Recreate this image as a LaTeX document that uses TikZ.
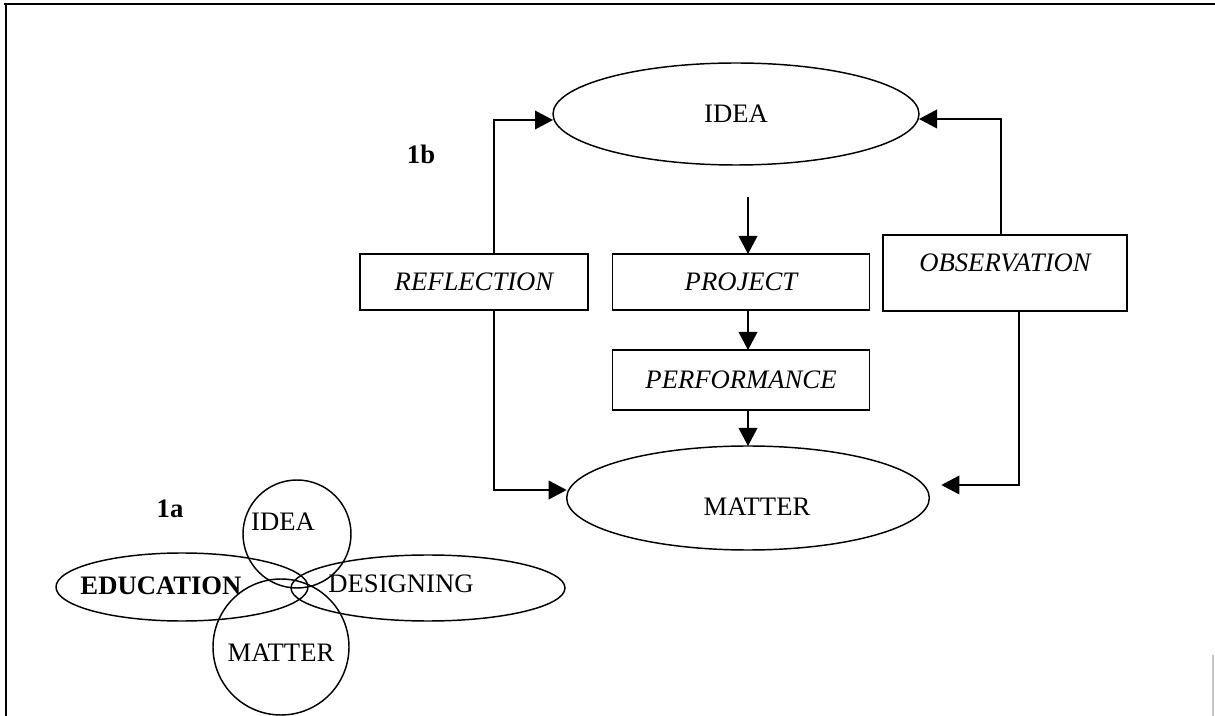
\documentclass[tikz,border=0pt]{standalone}
\usepackage{fontspec}
\setmainfont{Liberation Serif}
\usetikzlibrary{shapes.geometric,arrows.meta}

\tikzset{every picture/.style={line width=1.1pt}}
\tikzset{
  lbl/.style={inner sep=0.75pt, font=\fontsize{20}{24}\selectfont},
  bigell/.style={draw, ellipse, inner sep=0pt, outer sep=0pt, lbl},
  stagebox/.style={draw, rectangle, inner sep=0pt, outer sep=0pt, lbl, font=\fontsize{20}{24}\selectfont\itshape},
  arr/.style={-{Triangle[length=13.5pt,width=14pt]}},
}

\begin{document}
\begin{tikzpicture}[x=0.75pt,y=0.75pt,yscale=-1,xscale=1]
\useasboundingbox (0,0) rectangle (1215,716);

%Frame
\draw [line width=1.5pt] (4,4) -- (1215,4) ;
\draw [line width=1.5pt] (6,4) -- (6,716) ;
\draw [color=gray!45] (1213,655) -- (1213,716) ;

%Shape: Ellipse (1b)
\node [bigell, minimum width=274.5pt, minimum height=76.5pt] (idea) at (736,114) {IDEA};
\node [bigell, minimum width=272pt, minimum height=78pt, text height=26.7pt] (matter) at (748,498) {\hspace*{13.5pt}MATTER};

%Shape: Rectangle (1b)
\node [stagebox, minimum width=171pt, minimum height=42pt] (reflection) at (474,282) {REFLECTION};
\node [stagebox, minimum width=192.75pt, minimum height=42pt] (project) at (741,282) {PROJECT};
\node [stagebox, minimum width=192.75pt, minimum height=45pt] (performance) at (741,380) {PERFORMANCE};
\node [stagebox, minimum width=183pt, minimum height=57pt, text depth=15pt] (observation) at (1005,273) {OBSERVATION};

%Straight Lines with arrows
\coordinate (projin) at (748,197);
\draw [arr] (projin) -- (projin |- project.north) ;
\draw [arr] (project.south -| projin) -- (performance.north -| projin) ;
\draw [arr] (performance.south -| projin) -- (matter.north) ;
\draw [arr] (reflection.north -| 494,0) |- (idea.west |- 0,120) ;
\draw [arr] (reflection.south -| 494,0) |- (matter.west |- 0,490) ;
\draw [arr] (observation.north -| 1001,0) |- (idea.east |- 0,119) ;
\draw [arr, shorten >=9pt] (observation.south -| 1019,0) |- (matter.east |- 0,485) ;

% Text Node
\node [lbl, font=\fontsize{20}{24}\selectfont\bfseries] (lab1b) at (421,154) {1b};

%Shape: Circle and Ellipse (1a)
\draw (297,534) circle [radius=54] ;
\draw (182,587) ellipse [x radius=126, y radius=34] ;
\draw (428,588) ellipse [x radius=137, y radius=33] ;
\draw (281,647) circle [radius=68] ;

% Text Node
\node [lbl, font=\fontsize{20}{24}\selectfont\bfseries] (lab1a) at (170,509) {1a};
% Text Node
\node [lbl] (sidea) at (283,522) {IDEA};
% Text Node
\node [lbl, font=\fontsize{20}{24}\selectfont\bfseries] (seducation) at (161,586) {EDUCATION};
% Text Node
\node [lbl] (sdesigning) at (401,584) {DESIGNING};
% Text Node
\node [lbl] (smatter) at (281,653) {MATTER};

\end{tikzpicture}
\end{document}
